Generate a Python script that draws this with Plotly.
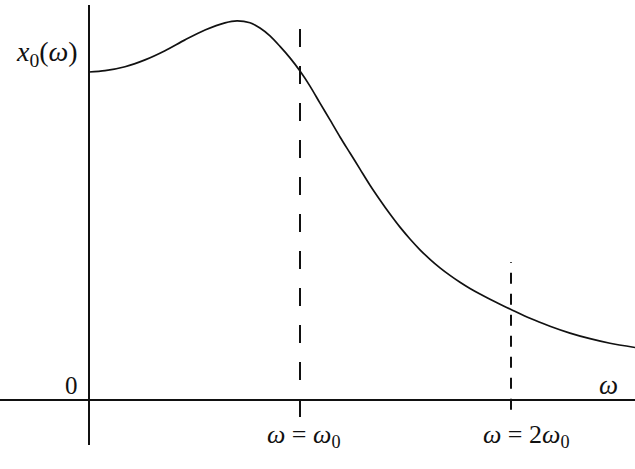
import plotly.graph_objects as go

# Curve x0(omega): omega in units of omega0, amplitude in units of x0(0)
omega = [0.0, 0.0758, 0.1706, 0.2654, 0.3602, 0.4550, 0.5498, 0.6445, 0.7014, 0.7630,
         0.8104, 0.8578, 0.9052, 0.9526, 1.0, 1.0474, 1.0948, 1.1422, 1.1896, 1.2370,
         1.2844, 1.3318, 1.3791, 1.4265, 1.4739, 1.5213, 1.5687, 1.6161, 1.6635, 1.7109,
         1.7583, 1.8057, 1.8531, 1.9005, 1.9479, 2.0, 2.0900, 2.1848, 2.2796, 2.3744,
         2.4692, 2.5877]
x0 = [1.0, 1.004, 1.016, 1.037, 1.065, 1.098, 1.128, 1.150, 1.156, 1.150,
      1.134, 1.110, 1.078, 1.043, 1.003, 0.957, 0.905, 0.854, 0.802, 0.753,
      0.704, 0.655, 0.610, 0.567, 0.527, 0.491, 0.458, 0.429, 0.403, 0.380,
      0.359, 0.340, 0.323, 0.307, 0.292, 0.276, 0.249, 0.225, 0.204, 0.187,
      0.173, 0.160]

marker_pos = [1, 2]
marker_top = [1.152, 0.421]
marker_bottom = [-0.052, -0.030]
marker_dash = ["18px,19px", "11px,10px"]
marker_labels = ["<i>ω</i> = <i>ω</i><sub>0</sub>", "<i>ω</i> = 2<i>ω</i><sub>0</sub>"]
marker_label_shift = [3, 15]

FONT = "Liberation Serif, Times New Roman, serif"

fig = go.Figure()
for xp, yt, yb, d in zip(marker_pos, marker_top, marker_bottom, marker_dash):
    fig.add_trace(go.Scatter(x=[xp, xp], y=[yb, yt], mode="lines",
                             line=dict(color="#111", width=2, dash=d),
                             hoverinfo="skip", showlegend=False))
fig.add_trace(go.Scatter(x=omega, y=x0, mode="lines",
                         line=dict(color="#111", width=1.7, shape="spline", smoothing=0.8),
                         showlegend=False))

for xp, lab, sh in zip(marker_pos, marker_labels, marker_label_shift):
    fig.add_annotation(x=xp, y=-0.110, text=lab, showarrow=False, xshift=sh,
                       font=dict(family=FONT, size=26, color="#111"),
                       xanchor="center", yanchor="middle")

fig.add_annotation(x=-0.043, y=0.043, text="0", showarrow=False,
                   font=dict(family=FONT, size=25, color="#111"),
                   xanchor="right", yanchor="middle")
fig.add_annotation(x=2.464, y=0.046, text="<i>ω</i>", showarrow=False,
                   font=dict(family=FONT, size=27, color="#111"),
                   xanchor="center", yanchor="middle")
fig.add_annotation(x=-0.199, y=1.055, text="<i>x</i><sub>0</sub>(<i>ω</i>)", showarrow=False,
                   font=dict(family=FONT, size=28, color="#111"),
                   xanchor="center", yanchor="middle")

fig.update_layout(
    width=635, height=469,
    margin=dict(l=0, r=0, t=5, b=24),
    paper_bgcolor="white", plot_bgcolor="white",
    xaxis=dict(range=[-89/211, 546/211], showgrid=False, showticklabels=False,
               ticks="", zeroline=True, zerolinecolor="#111", zerolinewidth=2,
               showline=False, fixedrange=True),
    yaxis=dict(range=[-0.1372, 1.2043], showgrid=False, showticklabels=False,
               ticks="", zeroline=True, zerolinecolor="#111", zerolinewidth=2,
               showline=False, fixedrange=True),
)

fig.write_html("out.html", post_script="document.body.style.margin='0';",
               config={"displayModeBar": False})
